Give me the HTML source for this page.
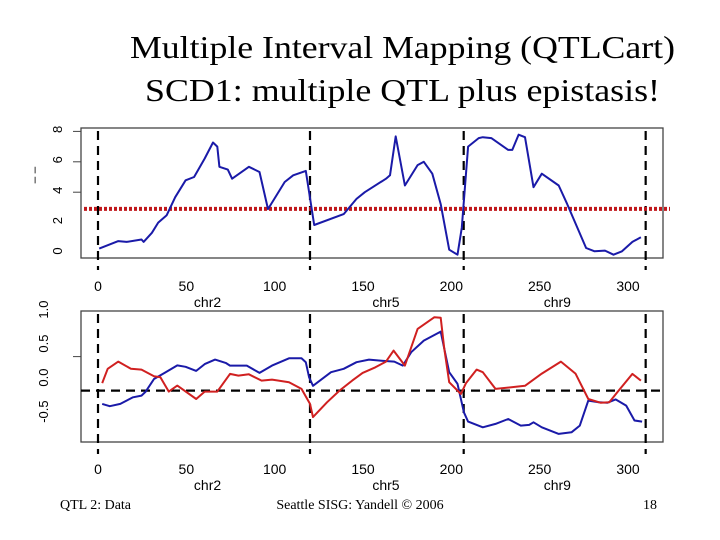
<!DOCTYPE html>
<html><head><meta charset="utf-8">
<style>
html,body{margin:0;padding:0;background:#fff;}
svg{display:block;}
.t{font-family:"Liberation Serif",serif;}
.s{font-family:"Liberation Sans",sans-serif;}
</style></head>
<body>
<svg id="chart" width="720" height="540" viewBox="0 0 720 540" xmlns="http://www.w3.org/2000/svg">
<text class="t" x="130" y="58" font-size="32" textLength="545" lengthAdjust="spacingAndGlyphs">Multiple Interval Mapping (QTLCart)</text>
<text class="t" x="145" y="101" font-size="32" textLength="515" lengthAdjust="spacingAndGlyphs">SCD1: multiple QTL plus epistasis!</text>
<text class="t" x="60" y="509" font-size="14">QTL 2: Data</text>
<text class="t" x="360" y="509" font-size="14" text-anchor="middle">Seattle SISG: Yandell © 2006</text>
<text class="t" x="650" y="509" font-size="14" text-anchor="middle">18</text>
<g id="g"></g>
</svg>
<script>
const xTicks=[0,50,100,150,200,250,300];
const chrNames=["chr2","chr5","chr9"];
const chrLabelPos=[62,163,260];
const chrBounds=[0,120,207,310];
const topTicks=[0,2,4,6,8];
const botTicks=[-0.5,0.0,0.5,1.0];
const threshold=2.9;
const topPos=[0.7,11.5,16.2,24.6,25.8,30.5,34.1,38.9,43.7,49.6,54.4,60.4,65.1,67.5,68.7,73.5,75.9,85.4,91.4,96.2,105.7,110.5,117.6,122.4,139.1,146.3,151.0,163.0,165.3,168.5,173.7,180.9,184.4,189.2,194.0,198.8,203.5,205.9,209.5,215.5,217.8,222.6,232.2,234.5,238.1,241.7,246.5,251.2,260.8,265.6,276.3,281.1,287.0,291.8,296.6,302.5,307.3];
const topLod=[0.29,0.78,0.73,0.89,0.73,1.33,2.0,2.49,3.67,4.78,5.0,6.22,7.27,7.0,5.67,5.49,4.89,5.67,5.33,2.89,4.67,5.11,5.4,1.84,2.56,3.56,4.0,4.89,5.11,7.67,4.44,5.78,6.0,5.22,3.22,0.22,-0.11,1.67,7.0,7.56,7.62,7.56,6.78,6.78,7.78,7.62,4.33,5.22,4.44,3.22,0.33,0.11,0.16,-0.11,0.11,0.73,1.04];
const bluePos=[2.4,6.7,12.6,19.8,24.6,27.0,31.7,37.7,44.9,49.6,55.6,60.4,66.3,72.3,74.7,84.2,91.4,98.5,108.1,115.2,117.6,119.5,121.7,131.9,139.1,146.3,153.4,160.6,167.7,172.5,177.3,184.4,194.0,198.8,203.5,207.1,209.5,217.8,225.0,232.2,239.3,244.1,246.5,251.2,260.8,268.0,272.7,277.5,283.5,288.2,293.0,299.0,303.7,308.0];
const blueEff=[-0.196,-0.23,-0.196,-0.098,-0.074,-0.015,0.17,0.26,0.37,0.35,0.29,0.39,0.456,0.407,0.368,0.368,0.26,0.368,0.475,0.475,0.417,0.196,0.07,0.27,0.32,0.417,0.456,0.44,0.427,0.368,0.564,0.735,0.868,0.27,0.1,-0.319,-0.456,-0.54,-0.49,-0.417,-0.515,-0.505,-0.466,-0.54,-0.637,-0.613,-0.515,-0.147,-0.172,-0.18,-0.13,-0.22,-0.44,-0.456];
const redPos=[2.4,5.5,11.5,18.6,24.6,31.7,35.3,40.1,44.9,55.6,60.4,67.5,74.7,79.5,85.4,92.6,98.5,108.1,115.2,120.0,121.7,129.6,136.7,143.9,149.8,157.0,163.0,167.3,173.7,180.9,190.4,194.0,195.9,198.8,205.4,208.3,214.3,217.8,225.0,241.7,251.2,262.0,270.3,277.5,284.6,289.4,294.2,302.5,307.3];
const redEff=[0.11,0.32,0.426,0.32,0.309,0.211,0.196,-0.015,0.074,-0.123,-0.015,-0.015,0.245,0.22,0.24,0.147,0.162,0.123,0.025,-0.196,-0.39,-0.172,0.0,0.147,0.26,0.343,0.426,0.588,0.368,0.907,1.08,1.07,0.637,0.123,-0.05,0.11,0.309,0.27,0.025,0.07,0.25,0.426,0.25,-0.123,-0.18,-0.17,-0.015,0.245,0.147];

const NS="http://www.w3.org/2000/svg";
const g=document.getElementById('g');
function mk(tag,attrs,parent){const e=document.createElementNS(NS,tag);for(const k in attrs)e.setAttribute(k,attrs[k]);(parent||g).appendChild(e);return e;}
const X=v=>98+v*(530/300);
const Ytop=v=>253-v*15.2;
const Ybot=v=>390.6-v*68;

function panel(top,bottom,yfn,ticks,tickShown,labX,labShift,axY,chrY,name){
  const b=mk('rect',{x:81,y:top,width:582,height:bottom-top,fill:'none',stroke:'#444','stroke-width':1.3});
  
  
  ticks.forEach(t=>{
    const y=yfn(t);
    if(tickShown(t)){const l=mk('line',{x1:73,x2:81,y1:y,y2:y,stroke:'#444'});
      
      }
    const ly=y+labShift;
    const tx=mk('text',{x:labX,y:ly,'font-size':13,'text-anchor':'middle',transform:`rotate(-90 ${labX} ${ly})`,class:'s'});
    tx.textContent=(name==='top')?String(t):t.toFixed(1);
    
    
  });
  xTicks.forEach(t=>{
    const tx=mk('text',{x:X(t),y:axY,'font-size':14,'text-anchor':'middle',class:'s'});
    tx.textContent=t;
    
    
  });
  chrNames.forEach((c,i)=>{
    const tx=mk('text',{x:X(chrLabelPos[i]),y:chrY,'font-size':14,'text-anchor':'middle',class:'s'});
    tx.textContent=c;
    
    
  });
  chrBounds.forEach(cb=>{
    const l=mk('line',{x1:X(cb),x2:X(cb),y1:top+3,y2:bottom+12,stroke:'#000','stroke-width':2.2,'stroke-dasharray':'9,6'});
    
    
  });
}
function line(xs,ys,yfn,color,name,w){
  const p=mk('polyline',{points:xs.map((x,i)=>X(x).toFixed(1)+','+yfn(ys[i]).toFixed(1)).join(' '),fill:'none',stroke:color,'stroke-width':w||2,'stroke-linejoin':'round'});
  
  
}
panel(128,258,Ytop,topTicks,t=>t>=4,62,-2,291,307,'top');
const th=mk('line',{x1:84,x2:670,y1:Ytop(threshold),y2:Ytop(threshold),stroke:'#c0181c','stroke-width':4,'stroke-dasharray':'3,2'});


line(topPos,topLod,Ytop,'#1a1aa8','lod-profile-line',2);
const ylab=mk('text',{x:38,y:175,'font-size':12,'text-anchor':'middle',transform:'rotate(-90 38 175)',class:'s'});
ylab.textContent='– –';



panel(311,442,Ybot,botTicks,t=>t===0.5,48,-13,474,490,'bottom');
const z=mk('line',{x1:81,x2:663,y1:Ybot(0),y2:Ybot(0),stroke:'#000','stroke-width':2.2,'stroke-dasharray':'9,6'});


line(bluePos,blueEff,Ybot,'#1a1aa8','additive-effect-line',2);
line(redPos,redEff,Ybot,'#d02020','dominance-effect-line',2);
</script>
</body></html>
